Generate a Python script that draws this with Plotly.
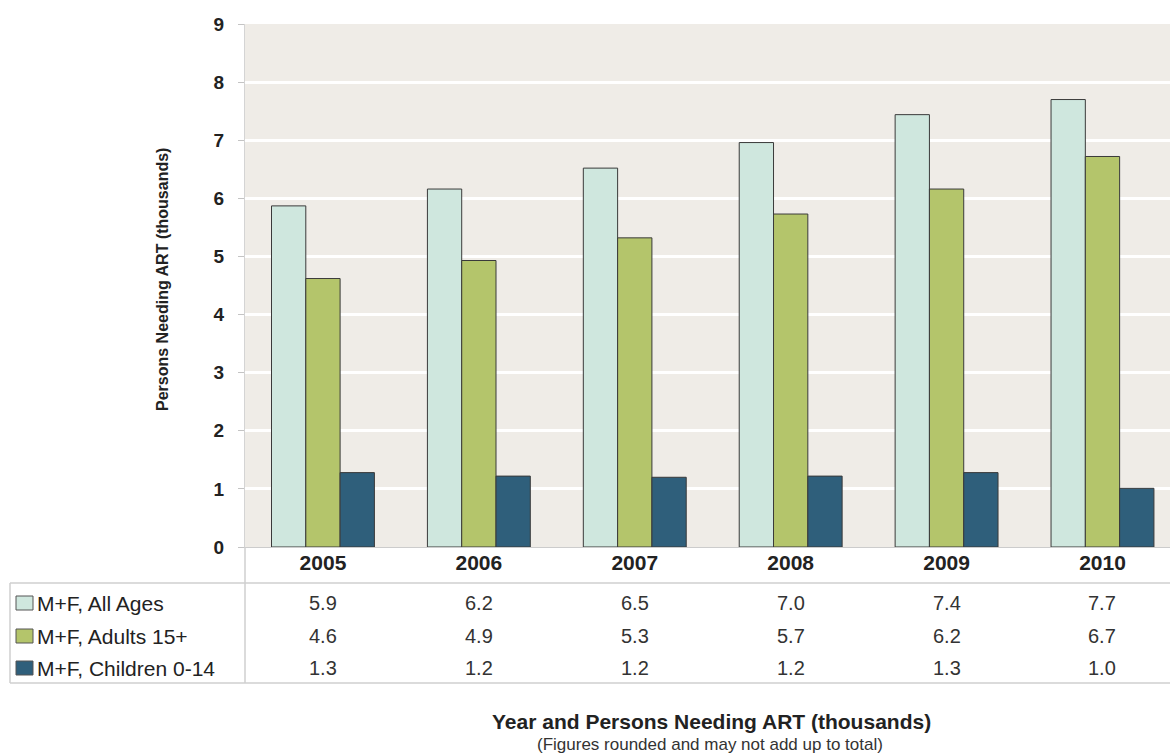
import plotly.graph_objects as go

years = ["2005", "2006", "2007", "2008", "2009", "2010"]
all_ages = [5.87, 6.16, 6.52, 6.96, 7.44, 7.70]
adults = [4.62, 4.93, 5.32, 5.73, 6.16, 6.72]
children = [1.28, 1.22, 1.20, 1.22, 1.28, 1.01]
series_names = ["M+F, All Ages", "M+F, Adults 15+", "M+F, Children 0-14"]
series_values = [all_ages, adults, children]
colors = ["#cfe7de", "#b4c56b", "#2f5f7b"]

W, H = 1170, 754
L, R, T, B = 245, 0, 24, 207
PW = W - L - R
PH = H - T - B
FONT = "Liberation Sans, Arial, sans-serif"


def py(ypx):
    return (H - B - ypx) / PH


def px(xpx):
    return (xpx - L) / PW


fig = go.Figure()
for name, vals, col in zip(series_names, series_values, colors):
    fig.add_trace(go.Bar(
        x=years, y=vals, name=name, marker=dict(color=col, line=dict(color="#3a3a3a", width=1)),
        showlegend=False,
    ))

shapes = []
annotations = []
line_col = "#cfcfcf"
shapes.append(dict(type="line", xref="paper", yref="paper", x0=px(10), x1=1, y0=py(583), y1=py(583),
                   line=dict(color=line_col, width=1.5)))
shapes.append(dict(type="line", xref="paper", yref="paper", x0=px(10), x1=1, y0=py(683), y1=py(683),
                   line=dict(color=line_col, width=1.5)))
shapes.append(dict(type="line", xref="paper", yref="paper", x0=px(10), x1=px(10), y0=py(583), y1=py(683),
                   line=dict(color=line_col, width=1.5)))
shapes.append(dict(type="line", xref="paper", yref="paper", x0=0, x1=0, y0=py(547), y1=py(683),
                   line=dict(color=line_col, width=1.5)))

row_y = [603, 636, 668]
for i, (name, vals, col) in enumerate(zip(series_names, series_values, colors)):
    yc = row_y[i]
    shapes.append(dict(type="rect", xref="paper", yref="paper", x0=px(16), x1=px(33),
                       y0=py(yc + 7), y1=py(yc - 7), fillcolor=col,
                       line=dict(color="#555555", width=1)))
    annotations.append(dict(xref="paper", yref="paper", x=px(35), y=py(yc), text=name,
                            showarrow=False, xanchor="left", yanchor="middle",
                            font=dict(family=FONT, size=21, color="#222222")))
    for j, v in enumerate(vals):
        annotations.append(dict(xref="x", yref="paper", x=j, y=py(yc), text=f"{v:.1f}",
                                showarrow=False, xanchor="center", yanchor="middle",
                                font=dict(family=FONT, size=20, color="#333333")))

annotations.append(dict(xref="paper", yref="paper", x=px(162), y=py(280),
                        text="<b>Persons Needing ART (thousands)</b>", textangle=-90,
                        showarrow=False, xanchor="center", yanchor="middle",
                        font=dict(family=FONT, size=16, color="#222222")))
annotations.append(dict(xref="paper", yref="paper", x=px(711), y=py(721),
                        text="<b>Year and Persons Needing ART (thousands)</b>",
                        showarrow=False, xanchor="center", yanchor="middle",
                        font=dict(family=FONT, size=21, color="#222222")))
annotations.append(dict(xref="paper", yref="paper", x=px(710), y=py(744),
                        text="(Figures rounded and may not add up to total)",
                        showarrow=False, xanchor="center", yanchor="middle",
                        font=dict(family=FONT, size=17, color="#333333")))

fig.update_layout(
    width=W, height=H,
    margin=dict(l=L, r=R, t=T, b=B, pad=0),
    paper_bgcolor="white", plot_bgcolor="#efece7",
    barmode="group", bargap=0.34, bargroupgap=0,
    shapes=shapes, annotations=annotations,
    font=dict(family=FONT),
    xaxis=dict(type="category", range=[-0.5, 5.433], showgrid=False, ticks="", showline=True,
               linecolor="#cccccc", ticklabelstandoff=-3,
               tickfont=dict(family=FONT, size=21, color="#222222", weight="bold")),
    yaxis=dict(range=[0, 9], dtick=1, showgrid=True, gridcolor="white", gridwidth=2.5,
               zeroline=False, ticks="outside", ticklen=6, tickcolor="#c4c4c4",
               ticklabelstandoff=10,
               tickfont=dict(family=FONT, size=19, color="#222222", weight="bold"),
               showline=True, linecolor="#d4d4d4", linewidth=1),
)

fig.write_html("out.html", post_script="document.body.style.margin='0';",
               config={"displayModeBar": False})
